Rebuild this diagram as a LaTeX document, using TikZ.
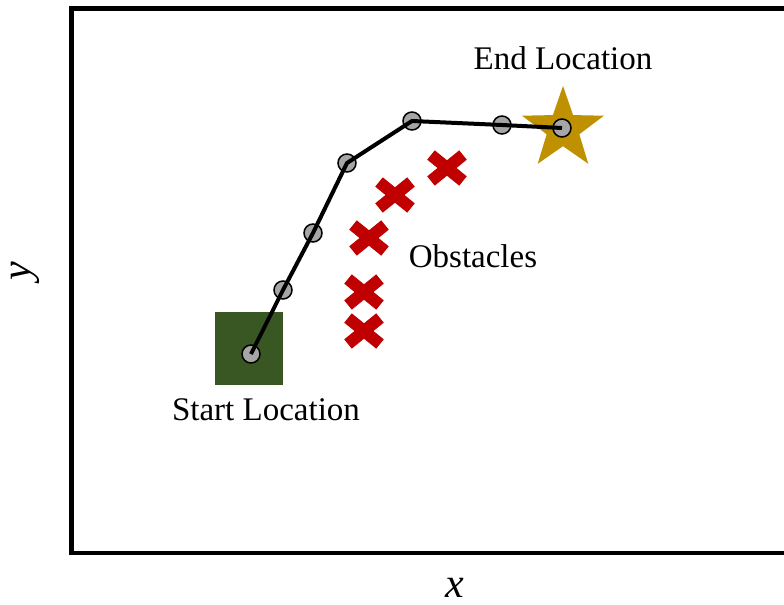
\documentclass[tikz,border=0pt]{standalone}
\usepackage{fontspec}
\setmainfont{Liberation Serif}
\newfontfamily\labelfont{Liberation Serif}
\usetikzlibrary{shapes.geometric, shapes.misc, positioning}

\definecolor{startgreen}{HTML}{385723}
\definecolor{goalgold}{HTML}{BF9000}
\definecolor{obstred}{HTML}{C00000}
\definecolor{waygray}{HTML}{A6A6A6}

\begin{document}
\begin{tikzpicture}[x=0.5pt, y=-0.5pt,
  font=\labelfont\fontsize{16.5}{20}\selectfont,
  startbox/.style={fill=startgreen, minimum width=34pt, minimum height=36.5pt, inner sep=0pt},
  goal/.style={star, star points=5, star point ratio=2.5, fill=goalgold, minimum size=43pt, inner sep=0pt},
  obstacle/.style={cross out, draw=obstred, line width=6pt, minimum width=16pt, minimum height=13pt, inner sep=0pt, outer sep=0pt},
  waypoint/.style={circle, draw, fill=waygray, line width=0.75pt, minimum size=9pt, inner sep=0pt},
  route/.style={line width=2pt},
  caption/.style={inner sep=0pt},
  axislabel/.style={font=\labelfont\fontsize{21}{24}\selectfont\itshape, inner sep=0pt}]
\useasboundingbox (0,0) rectangle (784,605);

% map frame, open to the right
\draw[line width=2.2pt] (800,8.5) -- (71.5,8.5) -- (71.5,553) -- (800,553);

\node[startbox] (start) at (249,348) {};
\node[goal] (goal) at (563,129) {};

\node[obstacle] (o1) at (447,168) {};
\node[obstacle] (o2) at (395,195) {};
\node[obstacle] (o3) at (369,238) {};
\node[obstacle] (o4) at (364,292) {};
\node[obstacle] (o5) at (364,331) {};

% waypoints along the planned path
\node[waypoint] (w0) at (251,354) {};
\node[waypoint] (w1) at (283,290) {};
\node[waypoint] (w2) at (313,233) {};
\node[waypoint] (w3) at (347,163) {};
\node[waypoint] (w4) at (412,121) {};
\node[waypoint] (w5) at (502,125) {};
\node[waypoint] (w6) at (562,128) {};

\draw[route] (w0.center) -- (w1.center) -- (w2.center) -- (w3.center)
  -- (w4.center) -- (w5.center) -- (w6.center);

\node[caption, below=6.5pt of start, xshift=8.5pt] (startlabel) {Start Location};
\node[caption, above=7.5pt of goal] (goallabel) {End Location};
\node[caption] (obstlabel) at (473,256) {Obstacles};

% axes
\node[axislabel] (xlabel) at (455,588) {x};
\node[axislabel, rotate=90] (ylabel) at (25,271) {y};
\end{tikzpicture}
\end{document}
